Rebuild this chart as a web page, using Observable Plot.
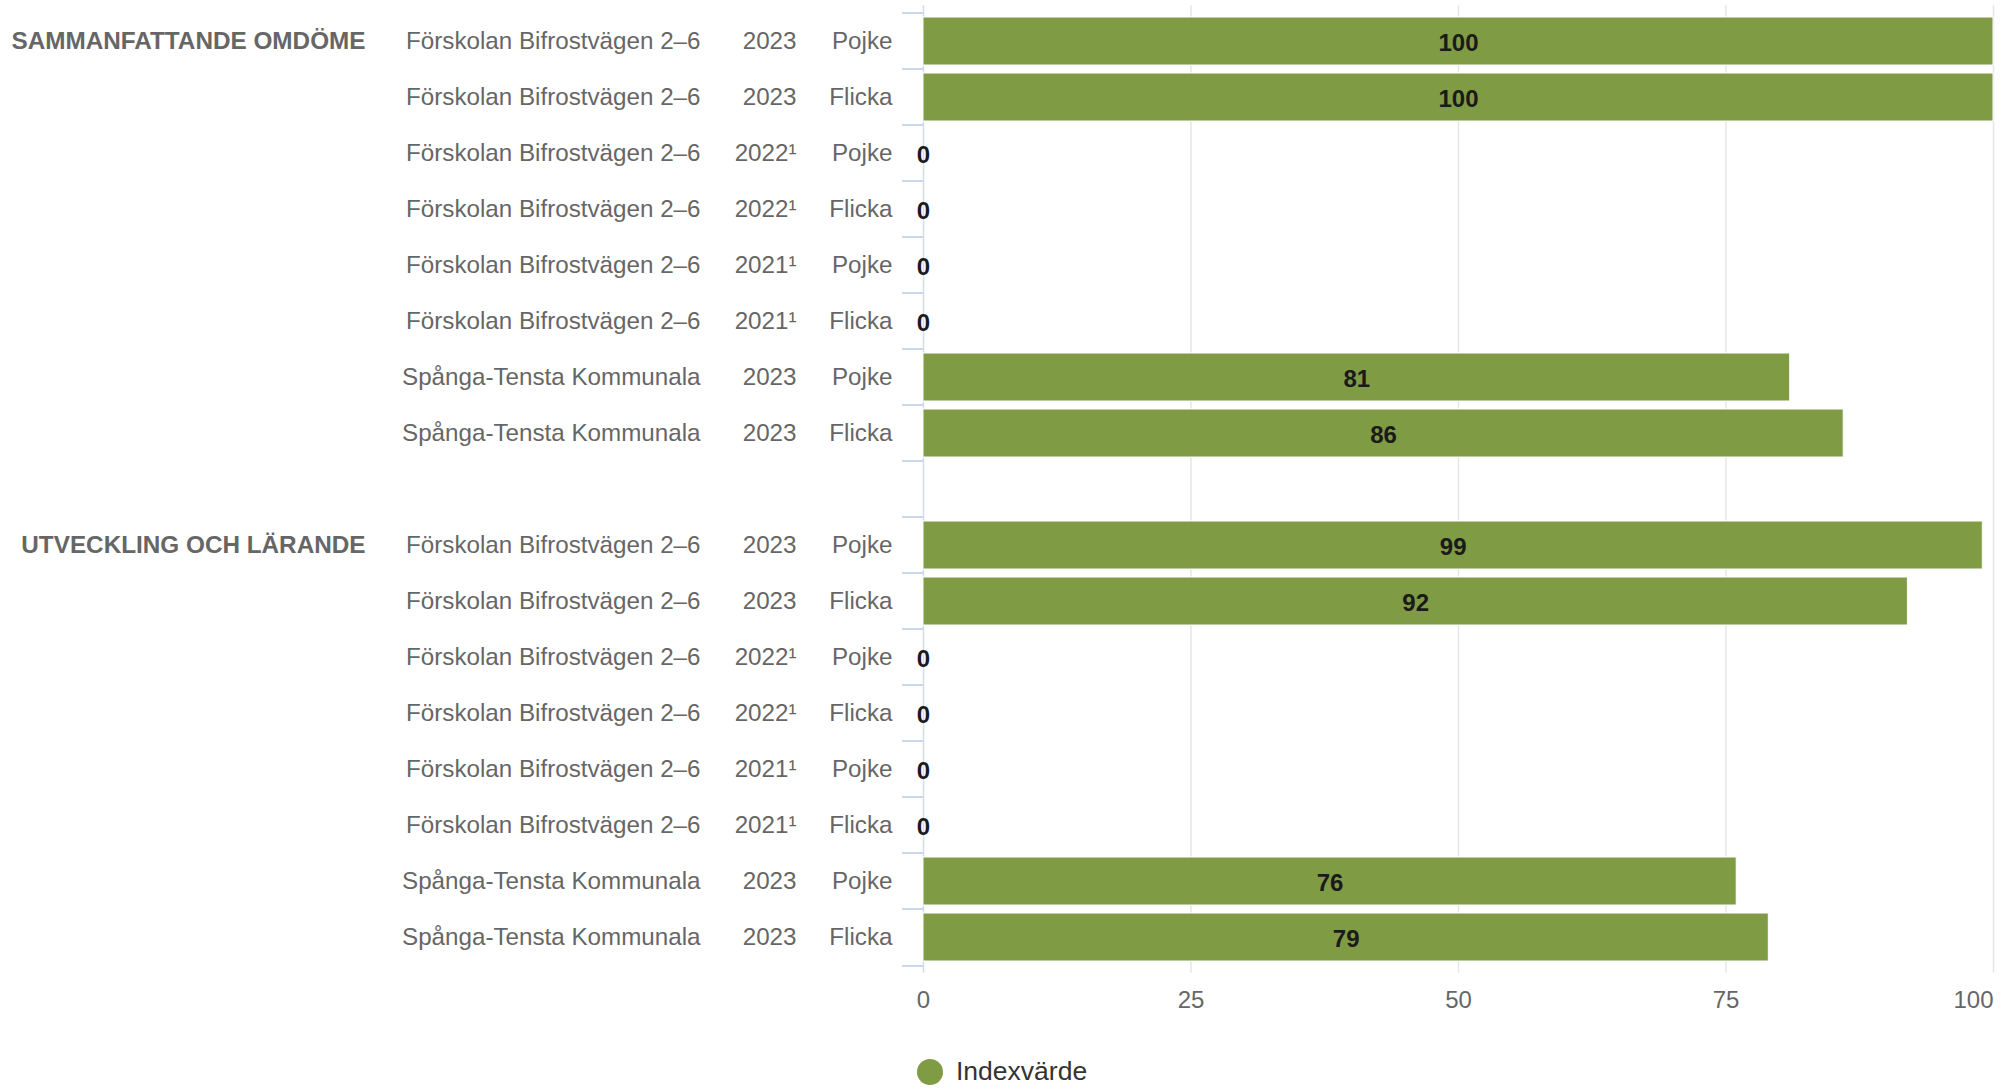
<!DOCTYPE html>
<html><head><meta charset="utf-8">
<script src="https://cdn.jsdelivr.net/npm/d3@7"></script>
<script src="https://cdn.jsdelivr.net/npm/@observablehq/plot@0.6"></script>
<style>
html,body{margin:0;padding:0;background:#fff;overflow:hidden;}
#wrap{position:relative;width:2013px;height:1089px;font-family:"Liberation Sans",Arial,sans-serif;}
#chart svg{display:block;}
#legend{position:absolute;left:917px;top:1056px;display:flex;align-items:center;font-size:26.5px;color:#333;}
#legend .dot{display:inline-block;width:26px;height:26px;border-radius:50%;margin-right:13px;}
</style></head><body><div id="wrap"><div id="chart"></div><div id="legend"><span class="dot"></span><span class="lbl"></span></div></div>
<script>
const groups = ["SAMMANFATTANDE OMDÖME", "UTVECKLING OCH LÄRANDE"];
const schools = ["Förskolan Bifrostvägen 2–6", "Förskolan Bifrostvägen 2–6", "Förskolan Bifrostvägen 2–6", "Förskolan Bifrostvägen 2–6", "Förskolan Bifrostvägen 2–6", "Förskolan Bifrostvägen 2–6", "Spånga-Tensta Kommunala", "Spånga-Tensta Kommunala"];
const years = ["2023", "2023", "2022¹", "2022¹", "2021¹", "2021¹", "2023", "2023"];
const genders = ["Pojke", "Flicka", "Pojke", "Flicka", "Pojke", "Flicka", "Pojke", "Flicka"];
const valuesSammanfattande = [100, 100, 0, 0, 0, 0, 81, 86];
const valuesUtveckling = [99, 92, 0, 0, 0, 0, 76, 79];
const xTicks = [0, 25, 50, 75, 100];
const seriesName = "Indexvärde";
const barColor = "#7f9b43";

const rows = [];
const domain = [];
[valuesSammanfattande, valuesUtveckling].forEach((vals, g) => {
  if (g > 0) domain.push("gap" + g);
  vals.forEach((v, i) => {
    const key = g + "-" + i;
    domain.push(key);
    rows.push({key, group: i === 0 ? groups[g] : "", school: schools[i], year: years[i], gender: genders[i], value: v});
  });
});

const W = 2013, H = 1037, mt = 5.2, mb = 64.2, ml = 923, mr = 20;
const step = (H - mt - mb) / domain.length;
const font = '"Liberation Sans", Arial, sans-serif';

const chart = Plot.plot({
  width: W, height: H,
  marginTop: mt, marginBottom: mb, marginLeft: ml, marginRight: mr,
  style: {fontFamily: font, background: "#fff"},
  x: {domain: [0, 100], axis: null},
  y: {domain, axis: null, paddingInner: 0.146, paddingOuter: 0.073},
  marks: [
    Plot.ruleX(xTicks.filter(d => d > 0), {stroke: "#e6e6e6", strokeWidth: 1.5}),
    Plot.ruleX([0], {stroke: "#d5dbe6", strokeWidth: 1.5}),
    Plot.ruleY(domain, {y: d => d, x1: 0, x2: 0, insetLeft: -21, dy: -step / 2, stroke: "#ccd6eb", strokeWidth: 2}),
    Plot.ruleY(domain.slice(-1), {y: d => d, x1: 0, x2: 0, insetLeft: -21, dy: step / 2, stroke: "#ccd6eb", strokeWidth: 2}),
    Plot.barX(rows, {y: "key", x1: 0, x2: "value", fill: barColor, stroke: "#fff", strokeWidth: 1}),
    Plot.text(rows, {y: "key", x: d => d.value / 2, text: d => String(d.value), fontSize: 24, fontWeight: "bold", fill: "#1a1a1a", dy: 2}),
    Plot.text(rows, {y: "key", frameAnchor: "left", text: "school", textAnchor: "end", dx: -223, fontSize: 24.2, fill: "#666"}),
    Plot.text(rows, {y: "key", frameAnchor: "left", text: "year", textAnchor: "end", dx: -127, fontSize: 24.2, fill: "#666"}),
    Plot.text(rows, {y: "key", frameAnchor: "left", text: "gender", textAnchor: "end", dx: -31, fontSize: 24.2, fill: "#666"}),
    Plot.text(rows.filter(d => d.group), {y: "key", frameAnchor: "left", text: "group", textAnchor: "end", dx: -558, fontSize: 24.3, fontWeight: "bold", fill: "#666"}),
    Plot.axisX(xTicks.slice(0, -1), {tickSize: 0, tickPadding: 18, fontSize: 24, color: "#666", label: null}),
    Plot.axisX(xTicks.slice(-1), {tickSize: 0, tickPadding: 18, fontSize: 24, color: "#666", label: null, textAnchor: "end", dx: 0})
  ]
});
document.getElementById("chart").appendChild(chart);
document.querySelector("#legend .dot").style.background = barColor;
document.querySelector("#legend .lbl").textContent = seriesName;
</script>
</body></html>
